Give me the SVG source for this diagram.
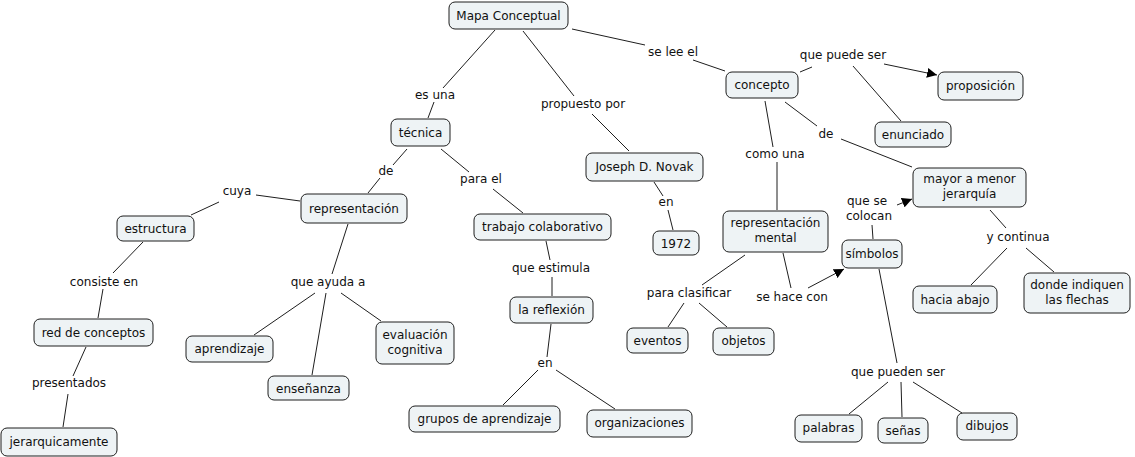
<svg xmlns="http://www.w3.org/2000/svg" width="1135" height="457" viewBox="0 0 1135 457">
<defs>
<style>
.n rect{fill:#eef3f5;stroke:#1e1e1e;stroke-width:1;}
text{font-family:"DejaVu Sans",Verdana,sans-serif;font-size:12px;fill:#111;text-anchor:middle;}
.c line{stroke:#1e1e1e;stroke-width:1;}
</style>
<marker id="ar" viewBox="0 0 10 10" refX="10" refY="5" markerWidth="10" markerHeight="10" markerUnits="userSpaceOnUse" orient="auto">
<path d="M0,0 L10,5 L0,10 Z" fill="#000"/>
</marker>
</defs>
<rect width="1135" height="457" fill="#fff"/>
<g id="connectors" class="c">
<line x1="495" y1="30" x2="443" y2="88"/>
<line x1="434" y1="102" x2="428" y2="118"/>
<line x1="523" y1="31" x2="574" y2="96"/>
<line x1="592" y1="114" x2="629" y2="151"/>
<line x1="572" y1="29" x2="645" y2="45"/>
<line x1="693" y1="60" x2="725" y2="71"/>
<line x1="800" y1="72" x2="812" y2="67"/>
<line x1="884" y1="64" x2="937" y2="75" marker-end="url(#ar)"/>
<line x1="853" y1="66" x2="901" y2="121"/>
<line x1="785" y1="102" x2="817" y2="126"/>
<line x1="841" y1="139" x2="912" y2="167"/>
<line x1="765" y1="101" x2="773" y2="147"/>
<line x1="777" y1="162" x2="777" y2="210"/>
<line x1="745" y1="255" x2="702" y2="285"/>
<line x1="684" y1="303" x2="668" y2="327"/>
<line x1="699" y1="303" x2="727" y2="327"/>
<line x1="783" y1="253" x2="791" y2="288"/>
<line x1="808" y1="288" x2="844" y2="269" marker-end="url(#ar)"/>
<line x1="873" y1="239" x2="872" y2="225"/>
<line x1="897" y1="205" x2="912" y2="199" marker-end="url(#ar)"/>
<line x1="990" y1="210" x2="1006" y2="228"/>
<line x1="1007" y1="248" x2="971" y2="285"/>
<line x1="1026" y1="248" x2="1054" y2="272"/>
<line x1="879" y1="269" x2="897" y2="363"/>
<line x1="888" y1="382" x2="849" y2="414"/>
<line x1="901" y1="382" x2="902" y2="417"/>
<line x1="913" y1="382" x2="962" y2="413"/>
<line x1="407" y1="149" x2="393" y2="165"/>
<line x1="380" y1="178" x2="368" y2="193"/>
<line x1="441" y1="149" x2="469" y2="172"/>
<line x1="493" y1="189" x2="523" y2="213"/>
<line x1="546" y1="241" x2="550" y2="260"/>
<line x1="552" y1="277" x2="552" y2="296"/>
<line x1="551" y1="324" x2="547" y2="357"/>
<line x1="538" y1="370" x2="503" y2="405"/>
<line x1="556" y1="370" x2="615" y2="409"/>
<line x1="654" y1="182" x2="663" y2="196"/>
<line x1="668" y1="210" x2="673" y2="230"/>
<line x1="300" y1="201" x2="256" y2="195"/>
<line x1="219" y1="202" x2="191" y2="215"/>
<line x1="143" y1="242" x2="113" y2="273"/>
<line x1="103" y1="289" x2="98" y2="318"/>
<line x1="86" y1="347" x2="73" y2="376"/>
<line x1="68" y1="394" x2="63" y2="427"/>
<line x1="348" y1="224" x2="332" y2="274"/>
<line x1="315" y1="293" x2="254" y2="335"/>
<line x1="326" y1="293" x2="312" y2="375"/>
<line x1="341" y1="293" x2="381" y2="321"/>
</g>
<g id="labels">
<text x="673" y="56">se lee el</text>
<text x="435" y="99">es una</text>
<text x="583" y="108">propuesto por</text>
<text x="843" y="59">que puede ser</text>
<text x="826" y="138">de</text>
<text x="775" y="158">como una</text>
<text x="867" y="205">que se</text>
<text x="869" y="220">colocan</text>
<text x="1018" y="241">y continua</text>
<text x="689" y="297">para clasificar</text>
<text x="792" y="301">se hace con</text>
<text x="898" y="376">que pueden ser</text>
<text x="386" y="175">de</text>
<text x="481" y="183">para el</text>
<text x="551" y="272">que estimula</text>
<text x="545" y="367">en</text>
<text x="666" y="206">en</text>
<text x="237" y="195">cuya</text>
<text x="104" y="286">consiste en</text>
<text x="69" y="387">presentados</text>
<text x="328" y="286">que ayuda a</text>
</g>
<g id="n-mapa" class="n"><rect x="449" y="2" width="119" height="27" rx="6"/><text x="508.5" y="19.5">Mapa Conceptual</text></g>
<g id="n-concepto" class="n"><rect x="726" y="72" width="72" height="26" rx="6"/><text x="762" y="89">concepto</text></g>
<g id="n-proposicion" class="n"><rect x="938" y="72" width="85" height="28" rx="6"/><text x="980.5" y="90">proposición</text></g>
<g id="n-enunciado" class="n"><rect x="875" y="122" width="76" height="25" rx="6"/><text x="913" y="138.5">enunciado</text></g>
<g id="n-mayor" class="n"><rect x="913" y="168" width="113" height="39" rx="6"/><text x="969.5" y="183">mayor a menor</text><text x="969.5" y="198">jerarquía</text></g>
<g id="n-repmental" class="n"><rect x="723" y="211" width="105" height="41" rx="6"/><text x="775.5" y="227">representación</text><text x="775.5" y="242">mental</text></g>
<g id="n-simbolos" class="n"><rect x="842" y="240" width="60" height="28" rx="6"/><text x="872" y="258">símbolos</text></g>
<g id="n-hacia" class="n"><rect x="913" y="286" width="84" height="27" rx="6"/><text x="955" y="303.5">hacia abajo</text></g>
<g id="n-donde" class="n"><rect x="1024" y="273" width="106" height="40" rx="6"/><text x="1077" y="289">donde indiquen</text><text x="1077" y="304">las flechas</text></g>
<g id="n-eventos" class="n"><rect x="627" y="328" width="61" height="25" rx="6"/><text x="657.5" y="345">eventos</text></g>
<g id="n-objetos" class="n"><rect x="713" y="328" width="61" height="27" rx="6"/><text x="743.5" y="345">objetos</text></g>
<g id="n-palabras" class="n"><rect x="795" y="415" width="67" height="27" rx="6"/><text x="828.5" y="432">palabras</text></g>
<g id="n-senas" class="n"><rect x="878" y="418" width="50" height="25" rx="6"/><text x="903" y="435">señas</text></g>
<g id="n-dibujos" class="n"><rect x="957" y="413" width="60" height="27" rx="6"/><text x="987" y="430">dibujos</text></g>
<g id="n-tecnica" class="n"><rect x="391" y="119" width="59" height="27" rx="6"/><text x="420.5" y="137">técnica</text></g>
<g id="n-novak" class="n"><rect x="586" y="153" width="117" height="28" rx="6"/><text x="644.5" y="171">Joseph D. Novak</text></g>
<g id="n-1972" class="n"><rect x="653" y="231" width="46" height="24" rx="6"/><text x="676" y="247.5">1972</text></g>
<g id="n-trabajo" class="n"><rect x="474" y="214" width="137" height="26" rx="6"/><text x="542.5" y="231">trabajo colaborativo</text></g>
<g id="n-reflexion" class="n"><rect x="510" y="297" width="83" height="26" rx="6"/><text x="551.5" y="314">la reflexión</text></g>
<g id="n-grupos" class="n"><rect x="409" y="406" width="151" height="26" rx="6"/><text x="484.5" y="423">grupos de aprendizaje</text></g>
<g id="n-organizaciones" class="n"><rect x="587" y="410" width="105" height="27" rx="6"/><text x="639.5" y="427">organizaciones</text></g>
<g id="n-representacion" class="n"><rect x="301" y="194" width="106" height="29" rx="6"/><text x="354" y="212.5">representación</text></g>
<g id="n-estructura" class="n"><rect x="117" y="216" width="77" height="25" rx="6"/><text x="155.5" y="232.5">estructura</text></g>
<g id="n-red" class="n"><rect x="34" y="319" width="119" height="27" rx="6"/><text x="93.5" y="336.5">red de conceptos</text></g>
<g id="n-jerarq" class="n"><rect x="1" y="428" width="116" height="28" rx="6"/><text x="59" y="446">jerarquicamente</text></g>
<g id="n-aprendizaje" class="n"><rect x="186" y="336" width="87" height="26" rx="6"/><text x="229.5" y="353">aprendizaje</text></g>
<g id="n-ensenanza" class="n"><rect x="268" y="376" width="81" height="24" rx="6"/><text x="308.5" y="392.5">enseñanza</text></g>
<g id="n-evaluacion" class="n"><rect x="376" y="322" width="78" height="42" rx="6"/><text x="415" y="339">evaluación</text><text x="415" y="354">cognitiva</text></g>
</svg>
